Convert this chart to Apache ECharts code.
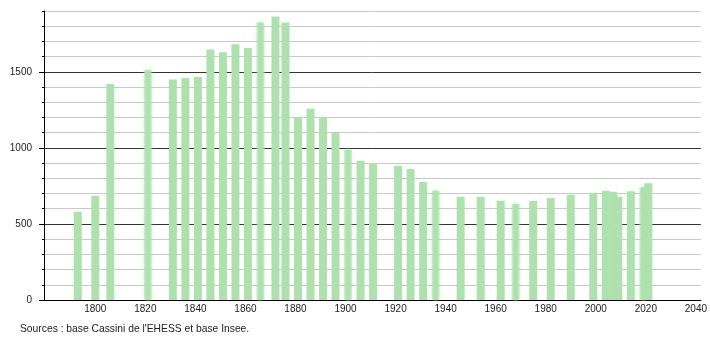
<!DOCTYPE html>
<html>
<head>
<meta charset="utf-8">
<script src="https://cdn.jsdelivr.net/npm/echarts@6/dist/echarts.min.js"></script>
<style>
html,body{margin:0;padding:0;background:#fff;}
#chart{width:710px;height:340px;}
</style>
</head>
<body>
<div id="chart"></div>
<script>
// Census years and population values
const years = [1793, 1800, 1806, 1821, 1831, 1836, 1841, 1846, 1851, 1856, 1861, 1866, 1872, 1876,
  1881, 1886, 1891, 1896, 1901, 1906, 1911, 1921, 1926, 1931, 1936, 1946, 1954, 1962, 1968,
  1975, 1982, 1990, 1999, 2004, 2007, 2009, 2014, 2019, 2021];
const population = [580, 685, 1420, 1510, 1450, 1460, 1468, 1647, 1629, 1681, 1657, 1824, 1864, 1824,
  1197, 1258, 1201, 1098, 987, 915, 897, 882, 862, 776, 719, 679, 679, 653, 631,
  651, 671, 692, 703, 719, 712, 679, 715, 741, 767];
// Bars that look soft/blurred in the reference
const blurredYears = [1821, 1866, 1901, 1936, 1968, 2019];
// Axis tick labels
const xTickLabels = [1800, 1820, 1840, 1860, 1880, 1900, 1920, 1940, 1960, 1980, 2000, 2020, 2040];
const yTickLabels = [0, 500, 1000, 1500];
const sourceText = "Sources : base Cassini de l'EHESS et base Insee.";

const green = '#afe1af';
const font = 'Liberation Sans, Arial, sans-serif';

const barData = years.map((y, i) => {
  const item = { value: [y, population[i]] };
  if (blurredYears.includes(y)) {
    item.itemStyle = {
      color: new echarts.graphic.LinearGradient(0, 0, 1, 0, [
        { offset: 0, color: 'rgba(175,225,175,0.45)' },
        { offset: 0.35, color: green },
        { offset: 0.65, color: green },
        { offset: 1, color: 'rgba(175,225,175,0.45)' }
      ]),
      shadowBlur: 4,
      shadowColor: 'rgba(175,225,175,0.8)'
    };
  }
  return item;
});

const chart = echarts.init(document.getElementById('chart'), null, { renderer: 'canvas' });
chart.setOption({
  animation: false,
  backgroundColor: '#ffffff',
  grid: { left: 44, right: 9, top: 11, bottom: 40, containLabel: false },
  xAxis: {
    type: 'value',
    min: 1779.5,
    max: 2042,
    axisLine: { show: true, lineStyle: { color: '#000', width: 1 } },
    axisTick: { show: false },
    splitLine: { show: false },
    axisLabel: {
      customValues: xTickLabels,
      fontSize: 10,
      fontFamily: font,
      color: '#222',
      margin: 4,
      formatter: v => String(v)
    }
  },
  yAxis: [
    {
      type: 'value',
      min: 0,
      max: 1900,
      interval: 100,
      axisLine: { show: true, lineStyle: { color: '#000', width: 1 } },
      axisTick: { show: true, length: 2, lineStyle: { color: '#000' } },
      axisLabel: {
        fontSize: 10,
        fontFamily: font,
        color: '#222',
        margin: 12,
        formatter: v => (yTickLabels.includes(v) ? String(v) : '')
      },
      splitLine: {
        show: true,
        lineStyle: { color: ['#333333', '#c8c8c8', '#c8c8c8', '#c8c8c8', '#c8c8c8'], width: 1 }
      }
    },
    {
      type: 'value',
      position: 'left',
      min: 0,
      max: 1900,
      interval: 100,
      axisLine: { show: false },
      axisTick: { show: true, length: 5, customValues: yTickLabels, lineStyle: { color: '#000' } },
      axisLabel: { show: false },
      splitLine: { show: false }
    }
  ],
  series: [{
    type: 'bar',
    xAxisIndex: 0,
    yAxisIndex: 0,
    barWidth: 8,
    itemStyle: { color: green },
    data: barData
  }],
  graphic: [{
    type: 'text',
    left: 20,
    top: 324,
    style: { text: sourceText, font: '10.3px ' + font, fill: '#222' }
  }]
});
</script>
</body>
</html>
